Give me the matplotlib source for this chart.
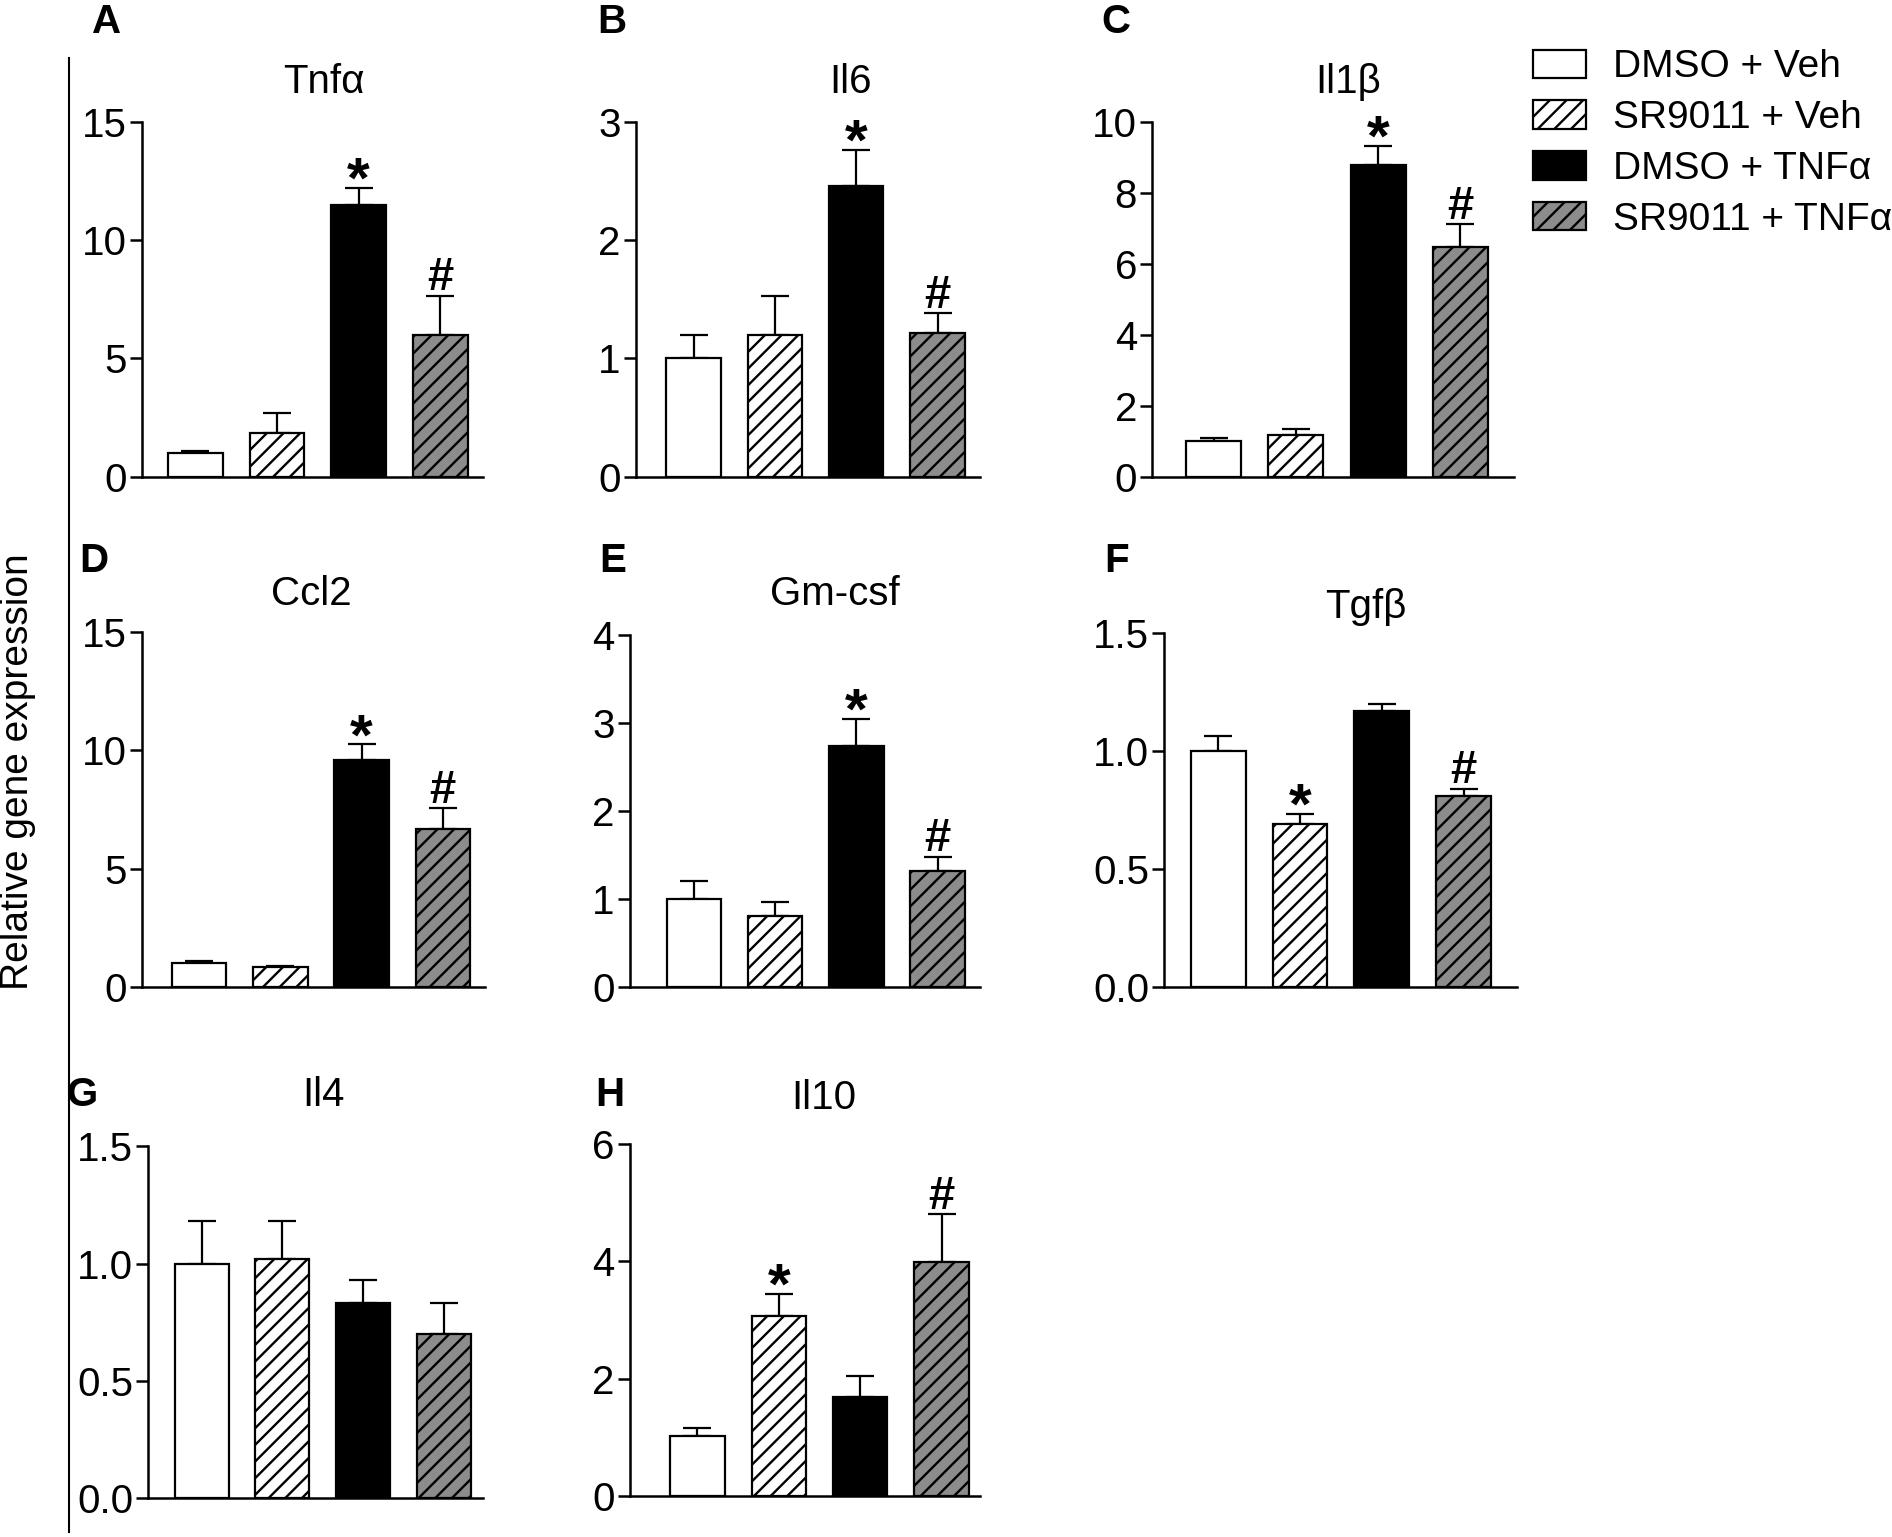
import matplotlib
matplotlib.use("Agg")
import matplotlib.pyplot as plt
from matplotlib.patches import Patch
from matplotlib.lines import Line2D

plt.rcParams['font.family'] = ['Liberation Sans', 'DejaVu Sans']
plt.rcParams['hatch.linewidth'] = 1.7

# groups and styling
groups = ["DMSO + Veh", "SR9011 + Veh", "DMSO + TNFα", "SR9011 + TNFα"]
faces = ["white", "white", "black", "#8c8c8c"]
hatches = [None, "//", None, "//"]

# gene panels
genes = ["Tnfα", "Il6", "Il1β", "Ccl2", "Gm-csf", "Tgfβ", "Il4", "Il10"]
letters = ["A", "B", "C", "D", "E", "F", "G", "H"]

tnfa_mean = [1.0, 1.85, 11.5, 6.0]
tnfa_sem = [0.1, 0.85, 0.7, 1.65]
il6_mean = [1.0, 1.2, 2.46, 1.21]
il6_sem = [0.2, 0.33, 0.3, 0.17]
il1b_mean = [0.99, 1.16, 8.78, 6.46]
il1b_sem = [0.1, 0.17, 0.55, 0.65]
ccl2_mean = [1.02, 0.82, 9.6, 6.68]
ccl2_sem = [0.08, 0.05, 0.65, 0.87]
gmcsf_mean = [1.0, 0.8, 2.74, 1.31]
gmcsf_sem = [0.2, 0.16, 0.3, 0.17]
tgfb_mean = [1.0, 0.69, 1.17, 0.81]
tgfb_sem = [0.065, 0.045, 0.03, 0.03]
il4_mean = [1.0, 1.02, 0.83, 0.70]
il4_sem = [0.18, 0.16, 0.10, 0.13]
il10_mean = [1.03, 3.06, 1.68, 3.98]
il10_sem = [0.12, 0.38, 0.36, 0.82]

means = [tnfa_mean, il6_mean, il1b_mean, ccl2_mean, gmcsf_mean, tgfb_mean, il4_mean, il10_mean]
sems = [tnfa_sem, il6_sem, il1b_sem, ccl2_sem, gmcsf_sem, tgfb_sem, il4_sem, il10_sem]

yticks = [
    [0, 5, 10, 15],
    [0, 1, 2, 3],
    [0, 2, 4, 6, 8, 10],
    [0, 5, 10, 15],
    [0, 1, 2, 3, 4],
    [0.0, 0.5, 1.0, 1.5],
    [0.0, 0.5, 1.0, 1.5],
    [0, 2, 4, 6],
]
tick_fmt = ["{:.0f}"] * 5 + ["{:.1f}", "{:.1f}", "{:.0f}"]

# significance marks per bar
marks = [
    ["", "", "*", "#"],
    ["", "", "*", "#"],
    ["", "", "*", "#"],
    ["", "", "*", "#"],
    ["", "", "*", "#"],
    ["", "*", "", "#"],
    ["", "", "", ""],
    ["", "*", "", "#"],
]

# layout (reference pixel coords, scaled to a 1568x1274 canvas)
W, H = 1568.0, 1274.0
boxes = [
    (118, 400, 101, 395), (527, 812, 101, 395), (955, 1255, 101, 395),
    (118, 402, 524, 818), (522, 812, 526, 818), (965, 1257, 525, 818),
    (123, 400, 950, 1242), (522, 812, 948, 1240),
]
xlims = [(-0.65, 3.52), (-0.71, 3.52), (-0.75, 3.66), (-0.70, 3.52),
         (-0.79, 3.52), (-0.66, 3.65), (-0.66, 3.48), (-0.83, 3.47)]
title_pos = [(268, 68), (705, 68), (1117, 68), (258, 492), (692, 492),
             (1132, 503), (268, 908), (683, 910)]
letter_pos = [(88, 18), (507, 18), (925, 18), (78, 465), (508, 465),
              (925, 465), (68, 908), (505, 908)]

fig = plt.figure(figsize=(18.92, 15.37), dpi=100)

x = [0, 1, 2, 3]
for i in range(8):
    l, r, t, b = boxes[i]
    ax = fig.add_axes([l / W, 1 - b / H, (r - l) / W, (b - t) / H])
    ax.bar(x, means[i], width=0.67, color=faces, edgecolor="black",
           linewidth=1.6, hatch=hatches, zorder=2)
    ax.errorbar(x, means[i], yerr=[[0] * 4, sems[i]], fmt="none",
                ecolor="black", elinewidth=1.6, capsize=10, capthick=1.6, zorder=1)
    for j in range(4):
        m = marks[i][j]
        if m:
            top = means[i][j] + sems[i][j]
            if m == "*":
                ax.annotate(m, (x[j], top), xytext=(0, -7),
                            textcoords="offset points", ha="center", va="baseline",
                            fontsize=42, fontweight="bold")
            else:
                ax.annotate(m, (x[j], top), xytext=(0, 4),
                            textcoords="offset points", ha="center", va="baseline",
                            fontsize=34, fontweight="bold")
    ax.set_xlim(*xlims[i])
    ax.set_ylim(yticks[i][0], yticks[i][-1])
    ax.set_yticks(yticks[i])
    ax.set_yticklabels([tick_fmt[i].format(v) for v in yticks[i]])
    ax.set_xticks([])
    for s in ["top", "right"]:
        ax.spines[s].set_visible(False)
    for s in ["left", "bottom"]:
        ax.spines[s].set_linewidth(1.8)
    ax.spines["left"].set_bounds(yticks[i][0], yticks[i][-1])
    ax.tick_params(axis="y", direction="out", length=9, width=1.8,
                   labelsize=29, pad=2)
    ax.patch.set_alpha(0)

    tx, ty = title_pos[i]
    fig.text(tx / W, 1 - ty / H, genes[i], ha="center", va="center", fontsize=29)
    lx, ly = letter_pos[i]
    fig.text(lx / W, 1 - ly / H, letters[i], ha="center", va="center",
             fontsize=29, fontweight="bold")

# left bracket line and common y label
fig.add_artist(Line2D([57 / W, 57 / W], [1 - 48 / H, 1 - 1270 / H],
                      color="black", linewidth=1.5))
fig.text(15 / W, 1 - 640 / H, "Relative gene expression", rotation=90,
         ha="center", va="center", fontsize=28)

handles = [Patch(facecolor=faces[k], edgecolor="black", linewidth=1.6,
                 hatch=hatches[k]) for k in range(4)]
fig.legend(handles, groups, loc="upper left",
           bbox_to_anchor=(1258 / W, 1 - 28 / H), frameon=False, fontsize=28,
           handlelength=1.35, handleheight=0.75, handletextpad=0.7,
           labelspacing=0.38, borderaxespad=0)

fig.savefig("out.png", dpi=100)
